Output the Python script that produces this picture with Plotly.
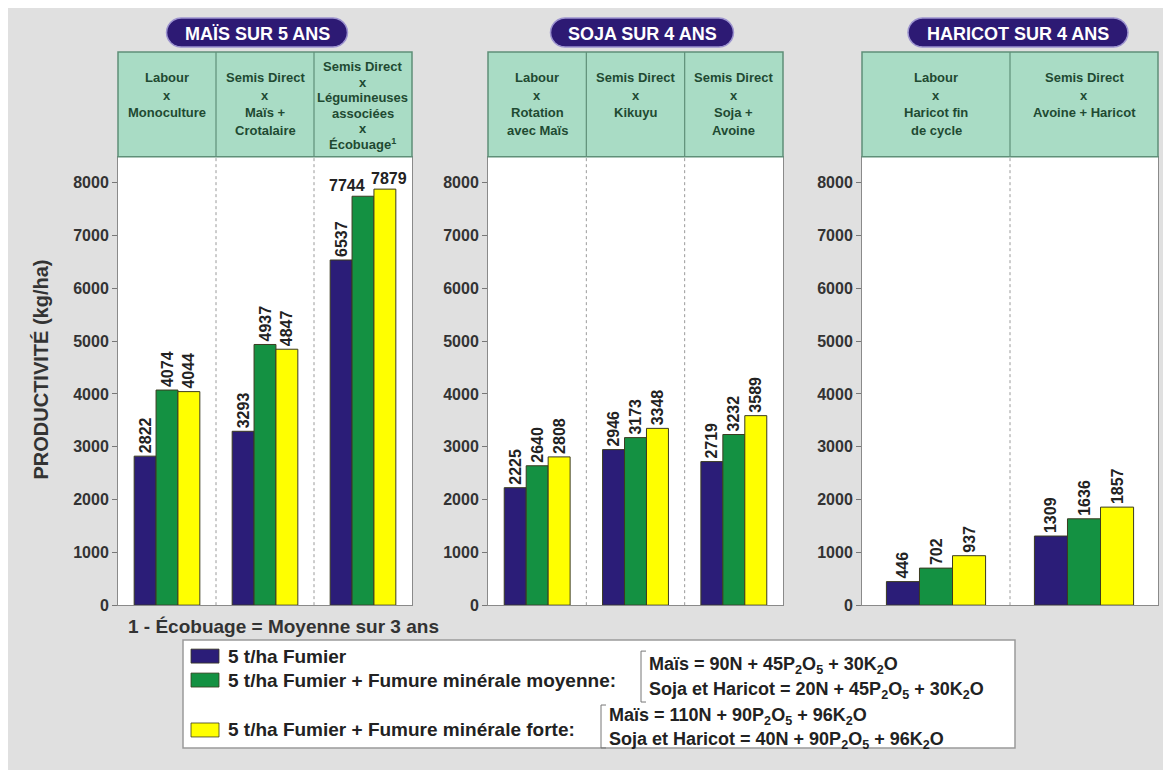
import math
import plotly.graph_objects as go

# ---------------- data ----------------
series_names = ["5 t/ha Fumier",
                "5 t/ha Fumier + Fumure minérale moyenne:",
                "5 t/ha Fumier + Fumure minérale forte:"]
series_colors = ["#2b1d78", "#149142", "#ffff00"]

panel_titles = ["MAÏS SUR 5 ANS", "SOJA SUR 4 ANS", "HARICOT SUR 4 ANS"]

mais_systems = ["Labour\nx\nMonoculture",
                "Semis Direct\nx\nMaïs +\nCrotalaire",
                "Semis Direct\nx\nLégumineuses\nassociées\nx\nÉcobuage<sup>1</sup>"]
mais_fumier = [2822, 3293, 6537]
mais_moyenne = [4074, 4937, 7744]
mais_forte = [4044, 4847, 7879]

soja_systems = ["Labour\nx\nRotation\navec Maïs",
                "Semis Direct\nx\nKikuyu",
                "Semis Direct\nx\nSoja +\nAvoine"]
soja_fumier = [2225, 2946, 2719]
soja_moyenne = [2640, 3173, 3232]
soja_forte = [2808, 3348, 3589]

haricot_systems = ["Labour\nx\nHaricot fin\nde cycle",
                   "Semis Direct\nx\nAvoine + Haricot"]
haricot_fumier = [446, 1309]
haricot_moyenne = [702, 1636]
haricot_forte = [937, 1857]

y_ticks = [0, 1000, 2000, 3000, 4000, 5000, 6000, 7000, 8000]
y_title = "PRODUCTIVITÉ (kg/ha)"
footnote = "1 - Écobuage = Moyenne sur 3 ans"
dose_moyenne = ["Maïs = 90N + 45P<sub>2</sub>O<sub>5</sub> + 30K<sub>2</sub>O",
                "Soja et Haricot = 20N + 45P<sub>2</sub>O<sub>5</sub> + 30K<sub>2</sub>O"]
dose_forte = ["Maïs = 110N + 90P<sub>2</sub>O<sub>5</sub> + 96K<sub>2</sub>O",
              "Soja et Haricot = 40N + 90P<sub>2</sub>O<sub>5</sub> + 96K<sub>2</sub>O"]

panels = [
    (mais_systems, [mais_fumier, mais_moyenne, mais_forte]),
    (soja_systems, [soja_fumier, soja_moyenne, soja_forte]),
    (haricot_systems, [haricot_fumier, haricot_moyenne, haricot_forte]),
]

# ---------------- geometry helpers ----------------
W, H, OFF = 1155, 762, 8
VS = 0.9897  # observed vertical scale of the photographed page
def X(x):
    return (x - OFF) / W
def Y(y):
    return 1 - (y / VS - OFF) / H

FONT = "Liberation Sans, Arial"
panel_x = [(118, 412), (488, 783), (862, 1158)]
HEAD_TOP, PLOT_TOP, PLOT_BOT = 52, 157, 606
YMAX = 8490
LABEL_SIZE = 16

fig = go.Figure()
shapes, annotations = [], []

def note(x, y, text, size, color="#222", xanchor="center", **kw):
    d = dict(x=X(x), y=Y(y), xref="paper", yref="paper", text=text, showarrow=False,
             xanchor=xanchor, yanchor="middle",
             font=dict(family=FONT, size=size, color=color, weight="bold"))
    d.update(kw)
    annotations.append(d)

for i, ((cats, vals), (l, r)) in enumerate(zip(panels, panel_x), start=1):
    xa, ya = f"x{i}", f"y{i}"
    for s, (name, col, v) in enumerate(zip(series_names, series_colors, vals)):
        txt = [str(t) for t in v]
        if i == 1 and s in (1, 2):
            # the two top values in the first panel are written horizontally
            txt[2] = ""
        fig.add_trace(go.Bar(
            x=cats, y=v, name=name, marker_color=col,
            marker_line=dict(color="#3b3b20", width=1),
            text=txt, textposition="outside", textangle=-90,
            constraintext="none", cliponaxis=False,
            textfont=dict(family=FONT, size=LABEL_SIZE, color="#222", weight="bold"),
            xaxis=xa, yaxis=ya, showlegend=False))
    if i == 1:
        for s, xs in ((1, -16), (2, 26)):
            annotations.append(dict(x=cats[2], y=vals[s][2], xref=xa, yref=ya,
                                    text=str(vals[s][2]), showarrow=False,
                                    xanchor="center", xshift=xs, yanchor="bottom", yshift=0,
                                    font=dict(family=FONT, size=LABEL_SIZE, color="#222",
                                              weight="bold")))

    fig.update_layout({
        f"xaxis{i}": dict(domain=[X(l), X(r)], anchor=ya, showticklabels=False,
                          showline=True, mirror=True, linecolor="#8a8a8a", linewidth=1,
                          ticks="", showgrid=False, fixedrange=True),
        f"yaxis{i}": dict(domain=[Y(PLOT_BOT), Y(PLOT_TOP)], anchor=xa, range=[0, YMAX],
                          tickvals=y_ticks, ticks="outside", ticklen=5, tickcolor="#777",
                          showline=True, mirror=True, linecolor="#8a8a8a", linewidth=1,
                          showgrid=False, zeroline=False, fixedrange=True,
                          tickfont=dict(family=FONT, size=16, color="#333", weight="bold")),
    })

    n = len(cats)
    # header box
    shapes.append(dict(type="rect", xref="paper", yref="paper",
                       x0=X(l), x1=X(r), y0=Y(PLOT_TOP), y1=Y(HEAD_TOP),
                       fillcolor="#a9dcc5", line=dict(color="#5f8f78", width=1.5)))
    for k in range(1, n):
        xb = l + (r - l) * k / n
        shapes.append(dict(type="line", xref="paper", yref="paper",
                           x0=X(xb), x1=X(xb), y0=Y(PLOT_TOP), y1=Y(HEAD_TOP),
                           line=dict(color="#5f8f78", width=1.2)))
        shapes.append(dict(type="line", xref="paper", yref="paper",
                           x0=X(xb), x1=X(xb), y0=Y(PLOT_BOT), y1=Y(PLOT_TOP),
                           line=dict(color="#9a9a9a", width=1, dash="dot")))
    # header texts
    for k, c in enumerate(cats):
        lines = c.split("\n")
        cx = l + (r - l) * (k + 0.5) / n
        if len(lines) > 4:
            start, step, fs = 67, 15.5, 13
        else:
            start, step, fs = 78, 17.5, 13
        for j, ln in enumerate(lines):
            note(cx, start + j * step, ln, fs, color="#1f4a32")
    # title pill
    pc = [257, 642, 1018][i - 1]
    pw = [181, 183, 220][i - 1]
    x0p, x1p, y0p, y1p = pc - pw / 2, pc + pw / 2, 18, 47
    rad = (y1p - y0p) / 2
    cy = (y0p + y1p) / 2
    pts = []
    for a in range(0, 181, 15):
        t = math.radians(90 + a)
        pts.append((x0p + rad + rad * math.cos(t), cy - rad * math.sin(t)))
    for a in range(0, 181, 15):
        t = math.radians(-90 + a)
        pts.append((x1p - rad + rad * math.cos(t), cy - rad * math.sin(t)))
    path = "M " + " L ".join(f"{X(px):.5f},{Y(py):.5f}" for px, py in pts) + " Z"
    shapes.append(dict(type="path", xref="paper", yref="paper", path=path,
                       fillcolor="#2d1a74", line=dict(color="#9d94cf", width=1.5)))
    note(pc, cy + 1, panel_titles[i - 1], 18, color="white")

# y title and footnote
note(41, 370, y_title, 20, color="#333", textangle=-90)
note(126, 627, footnote, 19, color="#333", xanchor="left")

# legend box
shapes.append(dict(type="rect", xref="paper", yref="paper", x0=X(183), x1=X(1015),
                   y0=Y(749), y1=Y(641), fillcolor="white", line=dict(color="#9a9a9a", width=1.5)))
leg_y = [657, 681, 731]
for name, col, yy in zip(series_names, series_colors, leg_y):
    shapes.append(dict(type="rect", xref="paper", yref="paper", x0=X(191), x1=X(219),
                       y0=Y(yy + 7), y1=Y(yy - 7), fillcolor=col,
                       line=dict(color="#3b3b20", width=0.8)))
    note(226, yy, name, 19, xanchor="left")
# brackets
for bx, by0, by1, texts, ty in [(641, 652, 703, dose_moyenne, [666, 691]),
                                (601, 706, 749, dose_forte, [718, 742])]:
    shapes.append(dict(type="path", xref="paper", yref="paper",
                       path=f"M {X(bx+5)},{Y(by0)} L {X(bx)},{Y(by0)} L {X(bx)},{Y(by1)} L {X(bx+5)},{Y(by1)}",
                       line=dict(color="#777", width=1)))
    for t, yy in zip(texts, ty):
        note(bx + 6, yy, t, 18, xanchor="left")

fig.update_layout(
    width=W, height=H, margin=dict(l=0, r=0, t=0, b=0),
    paper_bgcolor="#e0e0e0", plot_bgcolor="white",
    barmode="group", bargap=0.33, bargroupgap=0,
    shapes=shapes, annotations=annotations, showlegend=False,
    font=dict(family=FONT),
)

fig.write_html("out.html")
